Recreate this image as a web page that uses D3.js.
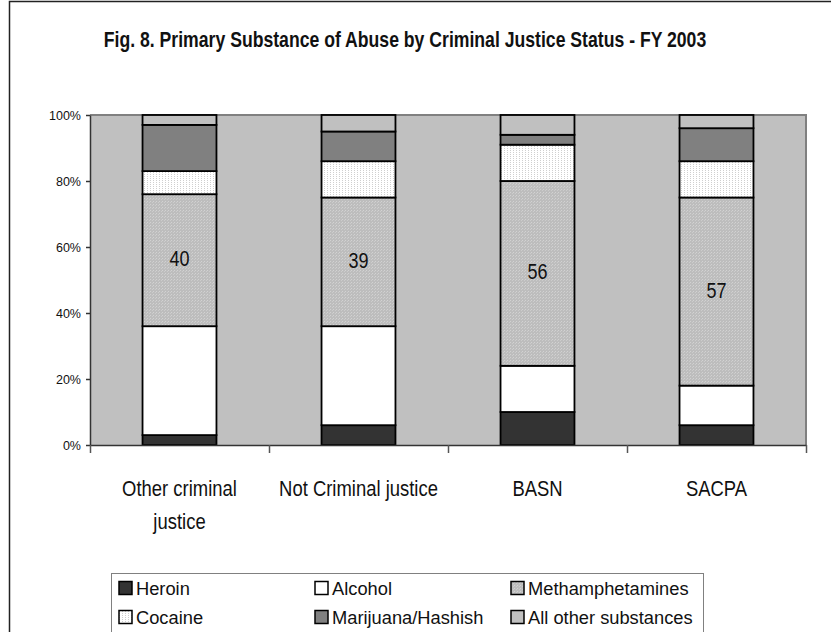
<!DOCTYPE html>
<html lang="en">
  <head>
    <meta charset="UTF-8" />
    <title>Primary Substance of Abuse</title>
    <style>
      body {
        margin: 0;
        background: #fff;
      }
      svg {
        display: block;
        font-family: "Liberation Sans", Arial, sans-serif;
      }
    </style>
  </head>
  <body>
    <div class="container"></div>

    <script src="https://cdnjs.cloudflare.com/ajax/libs/d3/7.8.5/d3.min.js"></script>
    <script>
      // data (percent of each group, bottom to top)
      const categories = ["Other criminal justice", "Not Criminal justice", "BASN", "SACPA"];
      const categoryLines = [["Other criminal", "justice"], ["Not Criminal justice"], ["BASN"], ["SACPA"]];
      const seriesNames = ["Heroin", "Alcohol", "Methamphetamines", "Cocaine", "Marijuana/Hashish", "All other substances"];
      const heroin = [3, 6, 10, 6];
      const alcohol = [33, 30, 14, 12];
      const meth = [40, 39, 56, 57];
      const cocaine = [7, 11, 11, 11];
      const marijuana = [14, 9, 3, 10];
      const otherSubst = [3, 5, 6, 4];
      const yTicks = [0, 0.2, 0.4, 0.6, 0.8, 1];
      const title = "Fig. 8. Primary Substance of Abuse by Criminal Justice Status - FY 2003";

      const seriesValues = [heroin, alcohol, meth, cocaine, marijuana, otherSubst];
      const table = categories.map((c, i) => {
        const row = { cat: c };
        seriesNames.forEach((s, j) => (row[s] = seriesValues[j][i]));
        return row;
      });

      const W = 831,
        H = 632;
      const plot = { left: 90, top: 115, right: 806, bottom: 445 };
      const narrow = 0.82; // arial narrow look

      const svg = d3.select(".container").append("svg").attr("width", W).attr("height", H);

      // patterns
      const defs = svg.append("defs");
      const pm = defs
        .append("pattern")
        .attr("id", "methPat")
        .attr("width", 3)
        .attr("height", 3)
        .attr("patternUnits", "userSpaceOnUse");
      pm.append("rect").attr("width", 3).attr("height", 3).attr("fill", "#bdbdbd");
      pm.append("rect").attr("width", 1).attr("height", 1).attr("fill", "#d2d2d2");
      pm.append("rect").attr("x", 2).attr("y", 1).attr("width", 1).attr("height", 1).attr("fill", "#cccccc");
      const pc = defs
        .append("pattern")
        .attr("id", "cocPat")
        .attr("width", 3)
        .attr("height", 2)
        .attr("patternUnits", "userSpaceOnUse");
      pc.append("rect").attr("width", 3).attr("height", 2).attr("fill", "#ffffff");
      pc.append("rect").attr("width", 1).attr("height", 1).attr("fill", "#cfcfcf");

      const fills = {
        Heroin: "#333333",
        Alcohol: "#ffffff",
        Methamphetamines: "url(#methPat)",
        Cocaine: "url(#cocPat)",
        "Marijuana/Hashish": "#808080",
        "All other substances": "#c0c0c0",
      };

      // chart frame
      svg
        .append("rect")
        .attr("x", 9.5)
        .attr("y", 1.5)
        .attr("width", 900)
        .attr("height", 700)
        .attr("fill", "#fff")
        .attr("stroke", "#222")
        .attr("stroke-width", 1.5);

      // title
      svg
        .append("text")
        .attr("transform", `translate(405,47) scale(${narrow},1)`)
        .attr("text-anchor", "middle")
        .attr("font-weight", "bold")
        .attr("font-size", 21.5)
        .attr("fill", "#111")
        .text(title);

      // scales
      const x = d3
        .scaleBand()
        .domain(categories)
        .range([plot.left, plot.right])
        .paddingInner(0.587)
        .paddingOuter(0.2935);
      const y = d3.scaleLinear().domain([0, 1]).range([plot.bottom, plot.top]);

      // plot background
      svg
        .append("rect")
        .attr("x", plot.left)
        .attr("y", plot.top)
        .attr("width", plot.right - plot.left)
        .attr("height", plot.bottom - plot.top)
        .attr("fill", "#c0c0c0");
      svg
        .append("path")
        .attr("d", `M${plot.left},${plot.top}H${plot.right}V${plot.bottom}`)
        .attr("fill", "none")
        .attr("stroke", "#808080")
        .attr("stroke-width", 2);

      // stacked bars
      const stacked = d3.stack().keys(seriesNames).offset(d3.stackOffsetExpand)(table);
      const layers = svg
        .selectAll("g.layer")
        .data(stacked)
        .join("g")
        .attr("class", "layer")
        .attr("fill", (d) => fills[d.key]);
      layers
        .selectAll("rect")
        .data((d) => d)
        .join("rect")
        .attr("x", (d) => x(d.data.cat))
        .attr("y", (d) => y(d[1]))
        .attr("width", x.bandwidth())
        .attr("height", (d) => y(d[0]) - y(d[1]))
        .attr("stroke", "#000")
        .attr("stroke-width", 1.8);

      // labels on methamphetamine segments
      const methLayer = stacked.find((s) => s.key === "Methamphetamines");
      svg
        .selectAll("text.val")
        .data(methLayer)
        .join("text")
        .attr("class", "val")
        .attr(
          "transform",
          (d) => `translate(${x(d.data.cat) + x.bandwidth() / 2},${(y(d[0]) + y(d[1])) / 2 + 6}) scale(${narrow},1)`
        )
        .attr("text-anchor", "middle")
        .attr("font-size", 22)
        .attr("fill", "#111")
        .text((d) => d.data.Methamphetamines);

      // y axis
      const yAxis = svg
        .append("g")
        .attr("transform", `translate(${plot.left},0)`)
        .call(d3.axisLeft(y).tickValues(yTicks).tickSize(4).tickSizeOuter(0).tickPadding(5).tickFormat(d3.format(".0%")));
      yAxis.select(".domain").attr("stroke", "#333").attr("stroke-width", 1.5);
      yAxis.selectAll(".tick line").attr("stroke", "#333").attr("stroke-width", 1.5);
      yAxis.selectAll(".tick text").attr("font-size", 12.5).attr("fill", "#111").attr("font-family", "Liberation Sans, Arial, sans-serif");

      // x axis with ticks between the groups
      const xEdge = d3.scaleLinear().domain([0, categories.length]).range([plot.left, plot.right]);
      const xAxis = svg
        .append("g")
        .attr("transform", `translate(0,${plot.bottom})`)
        .call(d3.axisBottom(xEdge).ticks(categories.length).tickSize(8).tickSizeOuter(0).tickFormat(""));
      xAxis.select(".domain").attr("stroke", "#333").attr("stroke-width", 1.5);
      xAxis.selectAll(".tick line").attr("stroke", "#555").attr("stroke-width", 1.5);

      // category labels
      const catG = svg
        .selectAll("g.cat")
        .data(categories)
        .join("g")
        .attr("class", "cat");
      catG.each(function (c, i) {
        d3.select(this)
          .selectAll("text")
          .data(categoryLines[i])
          .join("text")
          .attr("transform", (t, k) => `translate(${x(c) + x.bandwidth() / 2},${496 + k * 33}) scale(${narrow},1)`)
          .attr("text-anchor", "middle")
          .attr("font-size", 22.5)
          .attr("fill", "#111")
          .text((t) => t);
      });

      // legend
      const legend = svg.append("g").attr("transform", "translate(111,573)");
      legend
        .append("rect")
        .attr("x", 0.5)
        .attr("y", 0.5)
        .attr("width", 592)
        .attr("height", 80)
        .attr("fill", "#fff")
        .attr("stroke", "#808080");
      const colX = [8, 204, 400];
      const rowY = [15, 44];
      const items = legend
        .selectAll("g.item")
        .data(seriesNames)
        .join("g")
        .attr("class", "item")
        .attr("transform", (d, i) => `translate(${colX[i % 3]},${rowY[Math.floor(i / 3)]})`);
      items
        .append("rect")
        .attr("x", 0)
        .attr("y", -6.5)
        .attr("width", 13)
        .attr("height", 13)
        .attr("fill", (d) => fills[d])
        .attr("stroke", "#000")
        .attr("stroke-width", 1.5);
      items
        .append("text")
        .attr("x", 17)
        .attr("y", 6.5)
        .attr("font-size", 18.3)
        .attr("fill", "#111")
        .text((d) => d);
    </script>
  </body>
</html>
